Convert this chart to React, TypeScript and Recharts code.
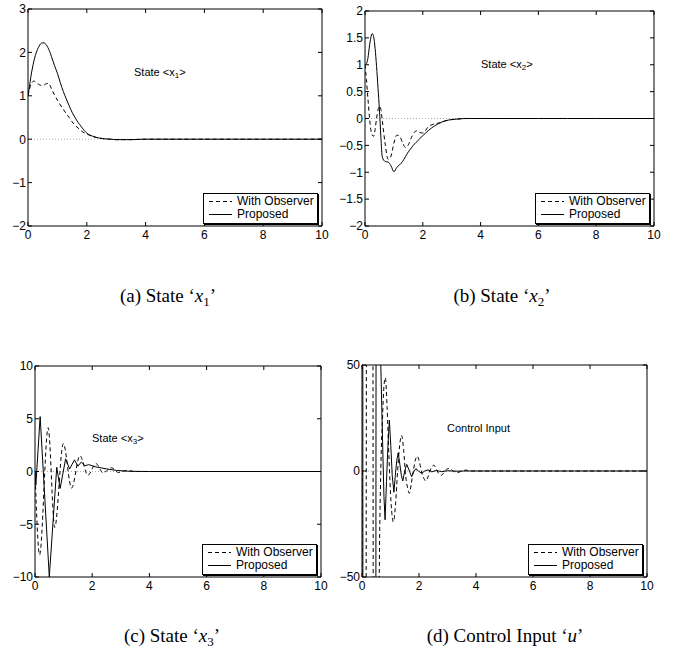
import React from 'react';
import { LineChart, Line, XAxis, YAxis, ReferenceLine, Legend } from 'recharts';

const SANS = '"Liberation Sans", Arial, Helvetica, sans-serif';
const SERIF = '"Liberation Serif", "Times New Roman", serif';

// shared time grid for panels (a) and (b)
const T_AB = [0, 0.05, 0.1, 0.15, 0.2, 0.25, 0.3, 0.35, 0.4, 0.45, 0.5, 0.55, 0.6, 0.7, 0.8, 0.9, 1.0, 1.1, 1.2, 1.3, 1.4, 1.5, 1.6, 1.7, 1.8, 1.9, 2.0, 2.2, 2.4, 2.6, 2.8, 3.0, 3.2, 3.5, 4, 5, 6, 7, 8, 9, 10];

// (a) state x1
const X1_OBS = [1.0, 1.15, 1.26, 1.32, 1.34, 1.32, 1.29, 1.27, 1.25, 1.24, 1.24, 1.25, 1.27, 1.29, 1.16, 1.02, 0.9, 0.79, 0.69, 0.59, 0.5, 0.4, 0.32, 0.26, 0.2, 0.15, 0.12, 0.06, 0.03, 0.01, 0, -0.01, -0.01, -0.01, 0, 0, 0, 0, 0, 0, 0];
const X1_PROP = [1.0, 1.22, 1.45, 1.64, 1.8, 1.93, 2.03, 2.11, 2.17, 2.21, 2.22, 2.22, 2.19, 2.08, 1.9, 1.7, 1.52, 1.3, 1.1, 0.93, 0.77, 0.62, 0.5, 0.39, 0.3, 0.21, 0.14, 0.07, 0.03, 0.01, 0, -0.01, -0.01, -0.01, 0, 0, 0, 0, 0, 0, 0];

// (b) state x2
const X2_OBS = [1.0, 0.72, 0.38, 0.05, -0.2, -0.31, -0.33, -0.2, 0.0, 0.16, 0.23, 0.17, -0.05, -0.48, -0.76, -0.7, -0.46, -0.31, -0.33, -0.45, -0.54, -0.49, -0.36, -0.26, -0.23, -0.26, -0.27, -0.15, -0.1, -0.08, -0.04, -0.02, -0.01, 0, 0, 0, 0, 0, 0, 0, 0];
const X2_PROP = [1.0, 1.02, 1.12, 1.33, 1.5, 1.58, 1.52, 1.3, 0.97, 0.57, 0.16, -0.35, -0.72, -0.8, -0.81, -0.88, -0.99, -0.91, -0.86, -0.8, -0.71, -0.62, -0.55, -0.48, -0.43, -0.37, -0.32, -0.22, -0.14, -0.08, -0.04, -0.02, -0.01, 0, 0, 0, 0, 0, 0, 0, 0];

// (c) state x3
const T_X3_OBS = [0, 0.16, 0.46, 0.69, 0.99, 1.28, 1.57, 1.85, 2.13, 2.38, 2.67, 2.92, 3.2, 3.5, 4, 10];
const X3_OBS = [0, -7.9, 4.15, -5.3, 2.65, -1.57, 1.5, -0.35, 0.75, -0.13, 0.36, -0.1, 0.1, 0, 0, 0];
const T_X3_PROP = [0, 0.03, 0.18, 0.5, 0.76, 0.88, 1.07, 1.21, 1.38, 1.5, 1.62, 1.75, 1.88, 2.1, 2.5, 2.85, 3.3, 4, 10];
const X3_PROP = [0, -1.3, 5.2, -10, 0.4, -1.6, 1.2, 0.25, 1.1, 0.5, 0.9, 0.55, 0.65, 0.45, 0.25, 0.1, 0.02, 0, 0];

// (d) control input u
const T_U_OBS = [0, 0.05, 0.27, 0.48, 0.55, 0.6, 0.66, 0.72, 0.77, 0.82, 0.88, 0.95, 1.02, 1.1, 1.18, 1.25, 1.32, 1.39, 1.46, 1.53, 1.6, 1.66, 1.73, 1.8, 1.87, 1.94, 2.02, 2.1, 2.17, 2.24, 2.31, 2.38, 2.45, 2.52, 2.59, 2.66, 2.72, 2.79, 2.86, 2.94, 3.01, 3.08, 3.2, 3.34, 3.5, 3.65, 3.8, 4, 10];
const U_OBS = [0, -900, 1200, -800, -250, -60, 0, 25, 40, 44, 30, 5, -15, -24, -15, 0, 12, 16.8, 10, -2, -8, -10.5, -6, 0, 5, 7, 4, -1, -3.5, -4.7, -3, 0, 2, 2.7, 1.5, -0.5, -1.6, -2, -1, 0.5, 1.1, 1.2, 0, -0.8, 0, 0.4, 0, 0, 0];
const T_U_PROP = [0, 0.06, 0.3, 0.42, 0.56, 0.6, 0.66, 0.72, 0.77, 0.81, 0.86, 0.91, 0.96, 1.01, 1.06, 1.12, 1.17, 1.22, 1.27, 1.33, 1.38, 1.43, 1.5, 1.57, 1.65, 1.74, 1.81, 1.89, 1.98, 2.09, 2.2, 2.32, 2.45, 2.6, 2.8, 3.0, 3.3, 3.6, 4, 10];
const U_PROP = [1500, -1500, -2500, -1500, 1500, 400, 50, 15, -12, -23, -5, 12, 24, 12, -2, -10, -2, 5, 8.6, 3, -2, -4.7, 0, 3.1, 0.5, -2.7, -0.5, 1.1, 0, -1.1, 0, 0.5, -0.4, 0.2, -0.3, 0.1, -0.1, 0, 0, 0];

const X_TICKS = [0, 2, 4, 6, 8, 10];
const X1_TICKS = [-2, -1, 0, 1, 2, 3];
const X2_TICKS = [-2, -1.5, -1, -0.5, 0, 0.5, 1, 1.5, 2];
const X3_TICKS = [-10, -5, 0, 5, 10];
const U_TICKS = [-50, 0, 50];

const SERIES_NAMES = ['With Observer', 'Proposed'];

const rows = (t: number[], v: number[]) => t.map((x, i) => ({ t: x, v: v[i] }));
const fmt = (v: number) => (v < 0 ? '\u2212' + Math.abs(v) : String(v));

const LegendBox = () => (
  <div style={{ width: 113, height: 28, border: '1px solid #000', boxShadow: '1px 1px 0 #000', background: '#fff', fontFamily: SANS, fontSize: 12, lineHeight: '13px', paddingTop: 1 }}>
    {SERIES_NAMES.map((name, i) => (
      <div key={name} style={{ display: 'flex', alignItems: 'center', height: 13 }}>
        <svg width={33} height={13}>
          <line x1={5} x2={28} y1={6.5} y2={6.5} stroke="#000" strokeWidth={1} strokeDasharray={i === 0 ? '4 3' : undefined} />
        </svg>
        <span>{name}</span>
      </div>
    ))}
  </div>
);

interface Box { left: number; top: number; width: number; height: number }
interface Plot { x0: number; y0: number; x1: number; y1: number }

interface PanelProps {
  box: Box;
  plot: Plot;
  yDomain: [number, number];
  yTicks: number[];
  obs: { t: number; v: number }[];
  prop: { t: number; v: number }[];
  obsCurve: 'monotone' | 'linear';
  propCurve: 'monotone' | 'linear';
}

const Panel = ({ box, plot, yDomain, yTicks, obs, prop, obsCurve, propCurve }: PanelProps) => {
  // one pixel reserved for the top and right box axes
  const margin = { top: plot.y0 - box.top - 1, right: box.left + box.width - plot.x1 - 1, bottom: 0, left: 0 };
  const yw = plot.x0 - box.left;
  const xh = box.top + box.height - plot.y1;
  const left = plot.x0 - box.left;
  const right = plot.x1 - box.left;
  const top = plot.y0 - box.top;
  const bottom = plot.y1 - box.top;
  const ax = { stroke: '#000' };

  // MATLAB style: inward ticks on both sides, labels outside
  const xTick = (p: any) => (
    <g>
      <line x1={p.x} x2={p.x} y1={bottom} y2={bottom - 4} stroke="#000" />
      <line x1={p.x} x2={p.x} y1={top} y2={top + 4} stroke="#000" />
      <text x={p.x} y={bottom + 13} textAnchor="middle" fontSize={12} fontFamily={SANS} fill="#000">{fmt(p.payload.value)}</text>
    </g>
  );
  const yTick = (p: any) => (
    <g>
      <line x1={left} x2={left + 4} y1={p.y} y2={p.y} stroke="#000" />
      <line x1={right} x2={right - 4} y1={p.y} y2={p.y} stroke="#000" />
      <text x={left - 2} y={p.y} dy="0.36em" textAnchor="end" fontSize={12} fontFamily={SANS} fill="#000">{fmt(p.payload.value)}</text>
    </g>
  );

  return (
    <div style={{ position: 'absolute', left: box.left, top: box.top }}>
      <LineChart width={box.width} height={box.height} margin={margin}>
        <XAxis xAxisId="b" type="number" dataKey="t" domain={[0, 10]} ticks={X_TICKS} interval={0} orientation="bottom" height={xh} tick={xTick} tickLine={false} axisLine={ax} allowDataOverflow />
        <XAxis xAxisId="t" type="number" dataKey="t" domain={[0, 10]} orientation="top" height={1} tick={false} tickLine={false} axisLine={ax} allowDataOverflow />
        <YAxis yAxisId="l" type="number" domain={yDomain} ticks={yTicks} interval={0} width={yw} tick={yTick} tickLine={false} axisLine={ax} allowDataOverflow />
        <YAxis yAxisId="r" type="number" orientation="right" domain={yDomain} width={1} tick={false} tickLine={false} axisLine={ax} allowDataOverflow />
        <ReferenceLine xAxisId="b" yAxisId="l" y={0} stroke="#aaa" strokeDasharray="1 2" />
        <Line xAxisId="b" yAxisId="l" data={obs} dataKey="v" name="With Observer" type={obsCurve} stroke="#000" strokeWidth={1} strokeDasharray="4 3" dot={false} activeDot={false} isAnimationActive={false} />
        <Line xAxisId="b" yAxisId="l" data={prop} dataKey="v" name="Proposed" type={propCurve} stroke="#000" strokeWidth={1} dot={false} activeDot={false} isAnimationActive={false} />
        <Legend layout="vertical" align="center" verticalAlign="middle" content={LegendBox}
          wrapperStyle={{ left: right - 119, top: bottom - 33, width: 115, height: 30 }} />
      </LineChart>
    </div>
  );
};

const Note = ({ left, top, children }: { left: number; top: number; children: React.ReactNode }) => (
  <div style={{ position: 'absolute', left, top, fontFamily: SANS, fontSize: 11, lineHeight: '13px', whiteSpace: 'nowrap' }}>{children}</div>
);

const Caption = ({ cx, top, children }: { cx: number; top: number; children: React.ReactNode }) => (
  <div style={{ position: 'absolute', left: cx - 150, width: 300, top, textAlign: 'center', fontFamily: SERIF, fontSize: 19, lineHeight: '22px' }}>{children}</div>
);

const sub = { fontSize: 8, verticalAlign: '-2px' } as const;
const capSub = { fontSize: 13, verticalAlign: '-4px' } as const;

export default function App() {
  return (
    <div style={{ position: 'absolute', left: 0, top: 0, width: 680, height: 655, background: '#fff', overflow: 'hidden' }}>
      <Panel box={{ left: 0, top: 0, width: 340, height: 250 }} plot={{ x0: 28, y0: 9, x1: 322, y1: 226 }}
        yDomain={[-2, 3]} yTicks={X1_TICKS} obs={rows(T_AB, X1_OBS)} prop={rows(T_AB, X1_PROP)} obsCurve="monotone" propCurve="monotone" />
      <Panel box={{ left: 340, top: 0, width: 340, height: 250 }} plot={{ x0: 365, y0: 11, x1: 654, y1: 226 }}
        yDomain={[-2, 2]} yTicks={X2_TICKS} obs={rows(T_AB, X2_OBS)} prop={rows(T_AB, X2_PROP)} obsCurve="monotone" propCurve="monotone" />
      <Panel box={{ left: 0, top: 340, width: 340, height: 261 }} plot={{ x0: 35, y0: 366, x1: 321, y1: 577 }}
        yDomain={[-10, 10]} yTicks={X3_TICKS} obs={rows(T_X3_OBS, X3_OBS)} prop={rows(T_X3_PROP, X3_PROP)} obsCurve="monotone" propCurve="linear" />
      <Panel box={{ left: 340, top: 340, width: 340, height: 261 }} plot={{ x0: 362, y0: 365, x1: 647, y1: 577 }}
        yDomain={[-50, 50]} yTicks={U_TICKS} obs={rows(T_U_OBS, U_OBS)} prop={rows(T_U_PROP, U_PROP)} obsCurve="monotone" propCurve="linear" />

      <Note left={134} top={66}>{'State <x'}<span style={sub}>1</span>{'>'}</Note>
      <Note left={481} top={58}>{'State <x'}<span style={sub}>2</span>{'>'}</Note>
      <Note left={92} top={432}>{'State <x'}<span style={sub}>3</span>{'>'}</Note>
      <Note left={447} top={422}>Control Input</Note>

      <Caption cx={168} top={285}>(a) State ‘<i>x</i><span style={capSub}>1</span>’</Caption>
      <Caption cx={502} top={285}>(b) State ‘<i>x</i><span style={capSub}>2</span>’</Caption>
      <Caption cx={172} top={625}>(c) State ‘<i>x</i><span style={capSub}>3</span>’</Caption>
      <Caption cx={505} top={625}>(d) Control Input ‘<i>u</i>’</Caption>
    </div>
  );
}
